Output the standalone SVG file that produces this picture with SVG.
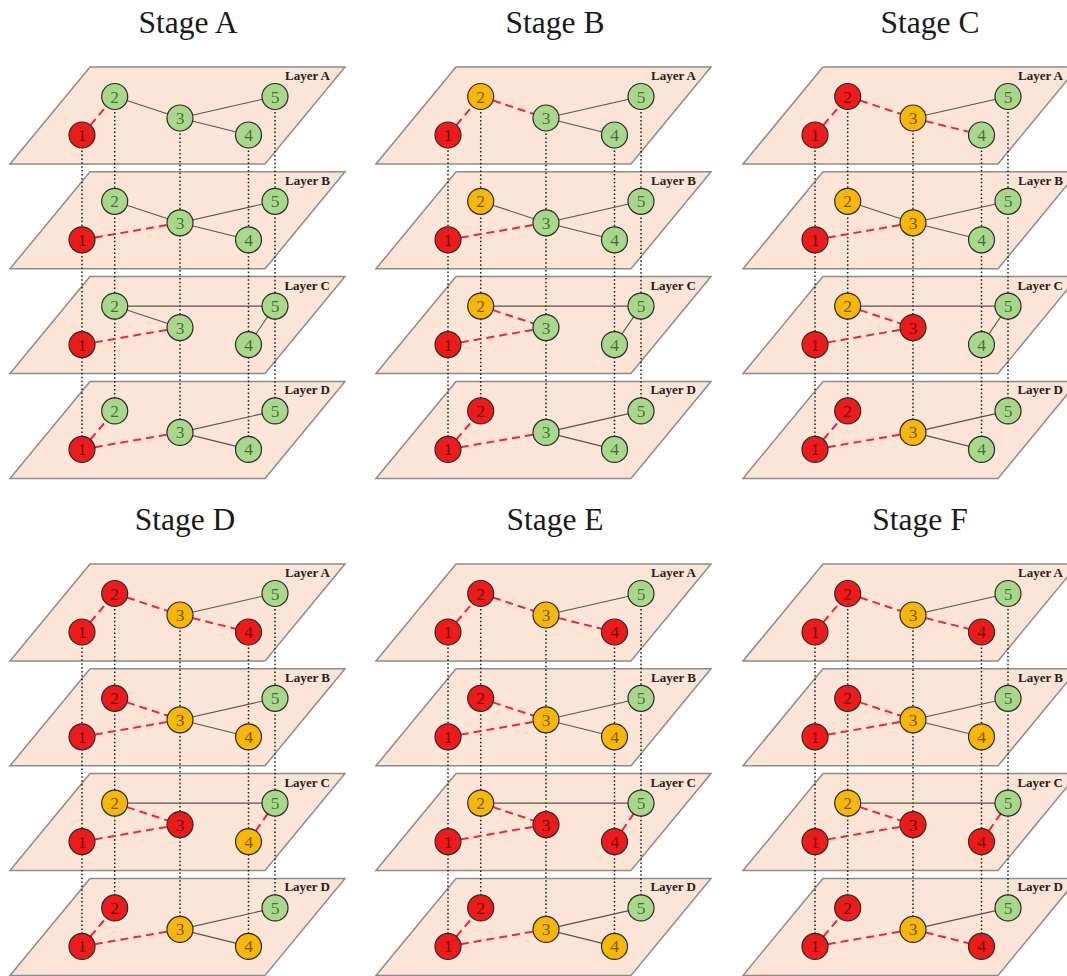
<svg xmlns="http://www.w3.org/2000/svg" xmlns:xlink="http://www.w3.org/1999/xlink" width="1067" height="976" viewBox="0 0 1067 976">
<style>
.pl{fill:#fce5d6;stroke:#8c8c8c;stroke-width:1.5}
.lb{font-family:'Liberation Serif',serif;font-weight:bold;font-size:13px;fill:#222;text-anchor:end}
.tt{font-family:'Liberation Serif',serif;font-size:31.5px;fill:#1a1a1a;text-anchor:middle}
.v{stroke:#1a1a1a;stroke-width:1.5;stroke-dasharray:1.5 2.4;fill:none}
.s{stroke:#555;stroke-width:1.1;fill:none}
.d{stroke:#e8283c;stroke-width:2;stroke-dasharray:8 5;fill:none}
.n circle{stroke:#2a2a2a;stroke-width:1.2}
.n text{font-family:'Liberation Serif',serif;font-size:17.5px;text-anchor:middle;fill:#000;fill-opacity:.55}
.r circle{fill:#ec1c1c}
.g circle{fill:#a8d88c}
.o circle{fill:#f6b70a}
</style>
<defs>
<polygon id="plane" class="pl" points="0,97 80,0 335,0 255,97"/>
</defs>
<g id="titles">
<text class="tt" x="188" y="33">Stage A</text>
<text class="tt" x="555" y="33">Stage B</text>
<text class="tt" x="930" y="33">Stage C</text>
<text class="tt" x="185" y="530">Stage D</text>
<text class="tt" x="555" y="530">Stage E</text>
<text class="tt" x="920" y="530">Stage F</text>
</g>

<!-- Stage A -->
<g id="stageA" transform="translate(10,67)">
<g id="A-layers">
<use xlink:href="#plane"/><use xlink:href="#plane" y="104.8"/><use xlink:href="#plane" y="209.6"/><use xlink:href="#plane" y="314.4"/>
<text class="lb" x="320" y="13">Layer A</text><text class="lb" x="320" y="117.8">Layer B</text><text class="lb" x="320" y="222.6">Layer C</text><text class="lb" x="320" y="327.4">Layer D</text>
</g>
<g id="A-connectors">
<path class="v" d="M72 68V382.4M104.7 29.5V343.9M170 51V365.4M238.5 68V382.4M265 29.5V343.9"/>
<path class="d" d="M72 68L104.7 29.5"/><path class="s" d="M104.7 29.5L170 51"/><path class="s" d="M170 51L265 29.5"/><path class="s" d="M170 51L238.5 68"/>
<path class="s" d="M104.7 134.3L170 155.8"/><path class="d" d="M72 172.8L170 155.8"/><path class="s" d="M170 155.8L265 134.3"/><path class="s" d="M170 155.8L238.5 172.8"/>
<path class="s" d="M104.7 239.1L265 239.1"/><path class="s" d="M104.7 239.1L170 260.6"/><path class="d" d="M72 277.6L170 260.6"/><path class="s" d="M238.5 277.6L265 239.1"/>
<path class="d" d="M72 382.4L104.7 343.9"/><path class="d" d="M72 382.4L170 365.4"/><path class="s" d="M170 365.4L265 343.9"/><path class="s" d="M170 365.4L238.5 382.4"/>
</g>
<g id="A-nodes">
<g id="A-a1" class="n r" transform="translate(72,68)"><circle r="13"/><text y="6">1</text></g>
<g id="A-a2" class="n g" transform="translate(104.7,29.5)"><circle r="13"/><text y="6">2</text></g>
<g id="A-a3" class="n g" transform="translate(170,51)"><circle r="13"/><text y="6">3</text></g>
<g id="A-a4" class="n g" transform="translate(238.5,68)"><circle r="13"/><text y="6">4</text></g>
<g id="A-a5" class="n g" transform="translate(265,29.5)"><circle r="13"/><text y="6">5</text></g>
<g id="A-b1" class="n r" transform="translate(72,172.8)"><circle r="13"/><text y="6">1</text></g>
<g id="A-b2" class="n g" transform="translate(104.7,134.3)"><circle r="13"/><text y="6">2</text></g>
<g id="A-b3" class="n g" transform="translate(170,155.8)"><circle r="13"/><text y="6">3</text></g>
<g id="A-b4" class="n g" transform="translate(238.5,172.8)"><circle r="13"/><text y="6">4</text></g>
<g id="A-b5" class="n g" transform="translate(265,134.3)"><circle r="13"/><text y="6">5</text></g>
<g id="A-c1" class="n r" transform="translate(72,277.6)"><circle r="13"/><text y="6">1</text></g>
<g id="A-c2" class="n g" transform="translate(104.7,239.1)"><circle r="13"/><text y="6">2</text></g>
<g id="A-c3" class="n g" transform="translate(170,260.6)"><circle r="13"/><text y="6">3</text></g>
<g id="A-c4" class="n g" transform="translate(238.5,277.6)"><circle r="13"/><text y="6">4</text></g>
<g id="A-c5" class="n g" transform="translate(265,239.1)"><circle r="13"/><text y="6">5</text></g>
<g id="A-d1" class="n r" transform="translate(72,382.4)"><circle r="13"/><text y="6">1</text></g>
<g id="A-d2" class="n g" transform="translate(104.7,343.9)"><circle r="13"/><text y="6">2</text></g>
<g id="A-d3" class="n g" transform="translate(170,365.4)"><circle r="13"/><text y="6">3</text></g>
<g id="A-d4" class="n g" transform="translate(238.5,382.4)"><circle r="13"/><text y="6">4</text></g>
<g id="A-d5" class="n g" transform="translate(265,343.9)"><circle r="13"/><text y="6">5</text></g>
</g>
</g>

<!-- Stage B -->
<g id="stageB" transform="translate(376,67)">
<g id="B-layers">
<use xlink:href="#plane"/><use xlink:href="#plane" y="104.8"/><use xlink:href="#plane" y="209.6"/><use xlink:href="#plane" y="314.4"/>
<text class="lb" x="320" y="13">Layer A</text><text class="lb" x="320" y="117.8">Layer B</text><text class="lb" x="320" y="222.6">Layer C</text><text class="lb" x="320" y="327.4">Layer D</text>
</g>
<g id="B-connectors">
<path class="v" d="M72 68V382.4M104.7 29.5V343.9M170 51V365.4M238.5 68V382.4M265 29.5V343.9"/>
<path class="d" d="M72 68L104.7 29.5"/><path class="d" d="M104.7 29.5L170 51"/><path class="s" d="M170 51L265 29.5"/><path class="s" d="M170 51L238.5 68"/>
<path class="s" d="M104.7 134.3L170 155.8"/><path class="d" d="M72 172.8L170 155.8"/><path class="s" d="M170 155.8L265 134.3"/><path class="s" d="M170 155.8L238.5 172.8"/>
<path class="s" d="M104.7 239.1L265 239.1"/><path class="d" d="M104.7 239.1L170 260.6"/><path class="d" d="M72 277.6L170 260.6"/><path class="s" d="M238.5 277.6L265 239.1"/>
<path class="d" d="M72 382.4L104.7 343.9"/><path class="d" d="M72 382.4L170 365.4"/><path class="s" d="M170 365.4L265 343.9"/><path class="s" d="M170 365.4L238.5 382.4"/>
</g>
<g id="B-nodes">
<g id="B-a1" class="n r" transform="translate(72,68)"><circle r="13"/><text y="6">1</text></g>
<g id="B-a2" class="n o" transform="translate(104.7,29.5)"><circle r="13"/><text y="6">2</text></g>
<g id="B-a3" class="n g" transform="translate(170,51)"><circle r="13"/><text y="6">3</text></g>
<g id="B-a4" class="n g" transform="translate(238.5,68)"><circle r="13"/><text y="6">4</text></g>
<g id="B-a5" class="n g" transform="translate(265,29.5)"><circle r="13"/><text y="6">5</text></g>
<g id="B-b1" class="n r" transform="translate(72,172.8)"><circle r="13"/><text y="6">1</text></g>
<g id="B-b2" class="n o" transform="translate(104.7,134.3)"><circle r="13"/><text y="6">2</text></g>
<g id="B-b3" class="n g" transform="translate(170,155.8)"><circle r="13"/><text y="6">3</text></g>
<g id="B-b4" class="n g" transform="translate(238.5,172.8)"><circle r="13"/><text y="6">4</text></g>
<g id="B-b5" class="n g" transform="translate(265,134.3)"><circle r="13"/><text y="6">5</text></g>
<g id="B-c1" class="n r" transform="translate(72,277.6)"><circle r="13"/><text y="6">1</text></g>
<g id="B-c2" class="n o" transform="translate(104.7,239.1)"><circle r="13"/><text y="6">2</text></g>
<g id="B-c3" class="n g" transform="translate(170,260.6)"><circle r="13"/><text y="6">3</text></g>
<g id="B-c4" class="n g" transform="translate(238.5,277.6)"><circle r="13"/><text y="6">4</text></g>
<g id="B-c5" class="n g" transform="translate(265,239.1)"><circle r="13"/><text y="6">5</text></g>
<g id="B-d1" class="n r" transform="translate(72,382.4)"><circle r="13"/><text y="6">1</text></g>
<g id="B-d2" class="n r" transform="translate(104.7,343.9)"><circle r="13"/><text y="6">2</text></g>
<g id="B-d3" class="n g" transform="translate(170,365.4)"><circle r="13"/><text y="6">3</text></g>
<g id="B-d4" class="n g" transform="translate(238.5,382.4)"><circle r="13"/><text y="6">4</text></g>
<g id="B-d5" class="n g" transform="translate(265,343.9)"><circle r="13"/><text y="6">5</text></g>
</g>
</g>

<!-- Stage C -->
<g id="stageC" transform="translate(743,67)">
<g id="C-layers">
<use xlink:href="#plane"/><use xlink:href="#plane" y="104.8"/><use xlink:href="#plane" y="209.6"/><use xlink:href="#plane" y="314.4"/>
<text class="lb" x="320" y="13">Layer A</text><text class="lb" x="320" y="117.8">Layer B</text><text class="lb" x="320" y="222.6">Layer C</text><text class="lb" x="320" y="327.4">Layer D</text>
</g>
<g id="C-connectors">
<path class="v" d="M72 68V382.4M104.7 29.5V343.9M170 51V365.4M238.5 68V382.4M265 29.5V343.9"/>
<path class="d" d="M72 68L104.7 29.5"/><path class="d" d="M104.7 29.5L170 51"/><path class="s" d="M170 51L265 29.5"/><path class="d" d="M170 51L238.5 68"/>
<path class="s" d="M104.7 134.3L170 155.8"/><path class="d" d="M72 172.8L170 155.8"/><path class="s" d="M170 155.8L265 134.3"/><path class="s" d="M170 155.8L238.5 172.8"/>
<path class="s" d="M104.7 239.1L265 239.1"/><path class="d" d="M104.7 239.1L170 260.6"/><path class="d" d="M72 277.6L170 260.6"/><path class="s" d="M238.5 277.6L265 239.1"/>
<path class="d" d="M72 382.4L104.7 343.9"/><path class="d" d="M72 382.4L170 365.4"/><path class="s" d="M170 365.4L265 343.9"/><path class="s" d="M170 365.4L238.5 382.4"/>
</g>
<g id="C-nodes">
<g id="C-a1" class="n r" transform="translate(72,68)"><circle r="13"/><text y="6">1</text></g>
<g id="C-a2" class="n r" transform="translate(104.7,29.5)"><circle r="13"/><text y="6">2</text></g>
<g id="C-a3" class="n o" transform="translate(170,51)"><circle r="13"/><text y="6">3</text></g>
<g id="C-a4" class="n g" transform="translate(238.5,68)"><circle r="13"/><text y="6">4</text></g>
<g id="C-a5" class="n g" transform="translate(265,29.5)"><circle r="13"/><text y="6">5</text></g>
<g id="C-b1" class="n r" transform="translate(72,172.8)"><circle r="13"/><text y="6">1</text></g>
<g id="C-b2" class="n o" transform="translate(104.7,134.3)"><circle r="13"/><text y="6">2</text></g>
<g id="C-b3" class="n o" transform="translate(170,155.8)"><circle r="13"/><text y="6">3</text></g>
<g id="C-b4" class="n g" transform="translate(238.5,172.8)"><circle r="13"/><text y="6">4</text></g>
<g id="C-b5" class="n g" transform="translate(265,134.3)"><circle r="13"/><text y="6">5</text></g>
<g id="C-c1" class="n r" transform="translate(72,277.6)"><circle r="13"/><text y="6">1</text></g>
<g id="C-c2" class="n o" transform="translate(104.7,239.1)"><circle r="13"/><text y="6">2</text></g>
<g id="C-c3" class="n r" transform="translate(170,260.6)"><circle r="13"/><text y="6">3</text></g>
<g id="C-c4" class="n g" transform="translate(238.5,277.6)"><circle r="13"/><text y="6">4</text></g>
<g id="C-c5" class="n g" transform="translate(265,239.1)"><circle r="13"/><text y="6">5</text></g>
<g id="C-d1" class="n r" transform="translate(72,382.4)"><circle r="13"/><text y="6">1</text></g>
<g id="C-d2" class="n r" transform="translate(104.7,343.9)"><circle r="13"/><text y="6">2</text></g>
<g id="C-d3" class="n o" transform="translate(170,365.4)"><circle r="13"/><text y="6">3</text></g>
<g id="C-d4" class="n g" transform="translate(238.5,382.4)"><circle r="13"/><text y="6">4</text></g>
<g id="C-d5" class="n g" transform="translate(265,343.9)"><circle r="13"/><text y="6">5</text></g>
</g>
</g>

<!-- Stage D -->
<g id="stageD" transform="translate(10,564)">
<g id="D-layers">
<use xlink:href="#plane"/><use xlink:href="#plane" y="104.8"/><use xlink:href="#plane" y="209.6"/><use xlink:href="#plane" y="314.4"/>
<text class="lb" x="320" y="13">Layer A</text><text class="lb" x="320" y="117.8">Layer B</text><text class="lb" x="320" y="222.6">Layer C</text><text class="lb" x="320" y="327.4">Layer D</text>
</g>
<g id="D-connectors">
<path class="v" d="M72 68V382.4M104.7 29.5V343.9M170 51V365.4M238.5 68V382.4M265 29.5V343.9"/>
<path class="d" d="M72 68L104.7 29.5"/><path class="d" d="M104.7 29.5L170 51"/><path class="s" d="M170 51L265 29.5"/><path class="d" d="M170 51L238.5 68"/>
<path class="d" d="M104.7 134.3L170 155.8"/><path class="d" d="M72 172.8L170 155.8"/><path class="s" d="M170 155.8L265 134.3"/><path class="s" d="M170 155.8L238.5 172.8"/>
<path class="s" d="M104.7 239.1L265 239.1"/><path class="d" d="M104.7 239.1L170 260.6"/><path class="d" d="M72 277.6L170 260.6"/><path class="d" d="M238.5 277.6L265 239.1"/>
<path class="d" d="M72 382.4L104.7 343.9"/><path class="d" d="M72 382.4L170 365.4"/><path class="s" d="M170 365.4L265 343.9"/><path class="s" d="M170 365.4L238.5 382.4"/>
</g>
<g id="D-nodes">
<g id="D-a1" class="n r" transform="translate(72,68)"><circle r="13"/><text y="6">1</text></g>
<g id="D-a2" class="n r" transform="translate(104.7,29.5)"><circle r="13"/><text y="6">2</text></g>
<g id="D-a3" class="n o" transform="translate(170,51)"><circle r="13"/><text y="6">3</text></g>
<g id="D-a4" class="n r" transform="translate(238.5,68)"><circle r="13"/><text y="6">4</text></g>
<g id="D-a5" class="n g" transform="translate(265,29.5)"><circle r="13"/><text y="6">5</text></g>
<g id="D-b1" class="n r" transform="translate(72,172.8)"><circle r="13"/><text y="6">1</text></g>
<g id="D-b2" class="n r" transform="translate(104.7,134.3)"><circle r="13"/><text y="6">2</text></g>
<g id="D-b3" class="n o" transform="translate(170,155.8)"><circle r="13"/><text y="6">3</text></g>
<g id="D-b4" class="n o" transform="translate(238.5,172.8)"><circle r="13"/><text y="6">4</text></g>
<g id="D-b5" class="n g" transform="translate(265,134.3)"><circle r="13"/><text y="6">5</text></g>
<g id="D-c1" class="n r" transform="translate(72,277.6)"><circle r="13"/><text y="6">1</text></g>
<g id="D-c2" class="n o" transform="translate(104.7,239.1)"><circle r="13"/><text y="6">2</text></g>
<g id="D-c3" class="n r" transform="translate(170,260.6)"><circle r="13"/><text y="6">3</text></g>
<g id="D-c4" class="n o" transform="translate(238.5,277.6)"><circle r="13"/><text y="6">4</text></g>
<g id="D-c5" class="n g" transform="translate(265,239.1)"><circle r="13"/><text y="6">5</text></g>
<g id="D-d1" class="n r" transform="translate(72,382.4)"><circle r="13"/><text y="6">1</text></g>
<g id="D-d2" class="n r" transform="translate(104.7,343.9)"><circle r="13"/><text y="6">2</text></g>
<g id="D-d3" class="n o" transform="translate(170,365.4)"><circle r="13"/><text y="6">3</text></g>
<g id="D-d4" class="n o" transform="translate(238.5,382.4)"><circle r="13"/><text y="6">4</text></g>
<g id="D-d5" class="n g" transform="translate(265,343.9)"><circle r="13"/><text y="6">5</text></g>
</g>
</g>

<!-- Stage E -->
<g id="stageE" transform="translate(376,564)">
<g id="E-layers">
<use xlink:href="#plane"/><use xlink:href="#plane" y="104.8"/><use xlink:href="#plane" y="209.6"/><use xlink:href="#plane" y="314.4"/>
<text class="lb" x="320" y="13">Layer A</text><text class="lb" x="320" y="117.8">Layer B</text><text class="lb" x="320" y="222.6">Layer C</text><text class="lb" x="320" y="327.4">Layer D</text>
</g>
<g id="E-connectors">
<path class="v" d="M72 68V382.4M104.7 29.5V343.9M170 51V365.4M238.5 68V382.4M265 29.5V343.9"/>
<path class="d" d="M72 68L104.7 29.5"/><path class="d" d="M104.7 29.5L170 51"/><path class="s" d="M170 51L265 29.5"/><path class="d" d="M170 51L238.5 68"/>
<path class="d" d="M104.7 134.3L170 155.8"/><path class="d" d="M72 172.8L170 155.8"/><path class="s" d="M170 155.8L265 134.3"/><path class="s" d="M170 155.8L238.5 172.8"/>
<path class="s" d="M104.7 239.1L265 239.1"/><path class="d" d="M104.7 239.1L170 260.6"/><path class="d" d="M72 277.6L170 260.6"/><path class="d" d="M238.5 277.6L265 239.1"/>
<path class="d" d="M72 382.4L104.7 343.9"/><path class="d" d="M72 382.4L170 365.4"/><path class="s" d="M170 365.4L265 343.9"/><path class="s" d="M170 365.4L238.5 382.4"/>
</g>
<g id="E-nodes">
<g id="E-a1" class="n r" transform="translate(72,68)"><circle r="13"/><text y="6">1</text></g>
<g id="E-a2" class="n r" transform="translate(104.7,29.5)"><circle r="13"/><text y="6">2</text></g>
<g id="E-a3" class="n o" transform="translate(170,51)"><circle r="13"/><text y="6">3</text></g>
<g id="E-a4" class="n r" transform="translate(238.5,68)"><circle r="13"/><text y="6">4</text></g>
<g id="E-a5" class="n g" transform="translate(265,29.5)"><circle r="13"/><text y="6">5</text></g>
<g id="E-b1" class="n r" transform="translate(72,172.8)"><circle r="13"/><text y="6">1</text></g>
<g id="E-b2" class="n r" transform="translate(104.7,134.3)"><circle r="13"/><text y="6">2</text></g>
<g id="E-b3" class="n o" transform="translate(170,155.8)"><circle r="13"/><text y="6">3</text></g>
<g id="E-b4" class="n o" transform="translate(238.5,172.8)"><circle r="13"/><text y="6">4</text></g>
<g id="E-b5" class="n g" transform="translate(265,134.3)"><circle r="13"/><text y="6">5</text></g>
<g id="E-c1" class="n r" transform="translate(72,277.6)"><circle r="13"/><text y="6">1</text></g>
<g id="E-c2" class="n o" transform="translate(104.7,239.1)"><circle r="13"/><text y="6">2</text></g>
<g id="E-c3" class="n r" transform="translate(170,260.6)"><circle r="13"/><text y="6">3</text></g>
<g id="E-c4" class="n r" transform="translate(238.5,277.6)"><circle r="13"/><text y="6">4</text></g>
<g id="E-c5" class="n g" transform="translate(265,239.1)"><circle r="13"/><text y="6">5</text></g>
<g id="E-d1" class="n r" transform="translate(72,382.4)"><circle r="13"/><text y="6">1</text></g>
<g id="E-d2" class="n r" transform="translate(104.7,343.9)"><circle r="13"/><text y="6">2</text></g>
<g id="E-d3" class="n o" transform="translate(170,365.4)"><circle r="13"/><text y="6">3</text></g>
<g id="E-d4" class="n o" transform="translate(238.5,382.4)"><circle r="13"/><text y="6">4</text></g>
<g id="E-d5" class="n g" transform="translate(265,343.9)"><circle r="13"/><text y="6">5</text></g>
</g>
</g>

<!-- Stage F -->
<g id="stageF" transform="translate(743,564)">
<g id="F-layers">
<use xlink:href="#plane"/><use xlink:href="#plane" y="104.8"/><use xlink:href="#plane" y="209.6"/><use xlink:href="#plane" y="314.4"/>
<text class="lb" x="320" y="13">Layer A</text><text class="lb" x="320" y="117.8">Layer B</text><text class="lb" x="320" y="222.6">Layer C</text><text class="lb" x="320" y="327.4">Layer D</text>
</g>
<g id="F-connectors">
<path class="v" d="M72 68V382.4M104.7 29.5V343.9M170 51V365.4M238.5 68V382.4M265 29.5V343.9"/>
<path class="d" d="M72 68L104.7 29.5"/><path class="d" d="M104.7 29.5L170 51"/><path class="s" d="M170 51L265 29.5"/><path class="d" d="M170 51L238.5 68"/>
<path class="d" d="M104.7 134.3L170 155.8"/><path class="d" d="M72 172.8L170 155.8"/><path class="s" d="M170 155.8L265 134.3"/><path class="s" d="M170 155.8L238.5 172.8"/>
<path class="s" d="M104.7 239.1L265 239.1"/><path class="d" d="M104.7 239.1L170 260.6"/><path class="d" d="M72 277.6L170 260.6"/><path class="d" d="M238.5 277.6L265 239.1"/>
<path class="d" d="M72 382.4L104.7 343.9"/><path class="d" d="M72 382.4L170 365.4"/><path class="s" d="M170 365.4L265 343.9"/><path class="d" d="M170 365.4L238.5 382.4"/>
</g>
<g id="F-nodes">
<g id="F-a1" class="n r" transform="translate(72,68)"><circle r="13"/><text y="6">1</text></g>
<g id="F-a2" class="n r" transform="translate(104.7,29.5)"><circle r="13"/><text y="6">2</text></g>
<g id="F-a3" class="n o" transform="translate(170,51)"><circle r="13"/><text y="6">3</text></g>
<g id="F-a4" class="n r" transform="translate(238.5,68)"><circle r="13"/><text y="6">4</text></g>
<g id="F-a5" class="n g" transform="translate(265,29.5)"><circle r="13"/><text y="6">5</text></g>
<g id="F-b1" class="n r" transform="translate(72,172.8)"><circle r="13"/><text y="6">1</text></g>
<g id="F-b2" class="n r" transform="translate(104.7,134.3)"><circle r="13"/><text y="6">2</text></g>
<g id="F-b3" class="n o" transform="translate(170,155.8)"><circle r="13"/><text y="6">3</text></g>
<g id="F-b4" class="n o" transform="translate(238.5,172.8)"><circle r="13"/><text y="6">4</text></g>
<g id="F-b5" class="n g" transform="translate(265,134.3)"><circle r="13"/><text y="6">5</text></g>
<g id="F-c1" class="n r" transform="translate(72,277.6)"><circle r="13"/><text y="6">1</text></g>
<g id="F-c2" class="n o" transform="translate(104.7,239.1)"><circle r="13"/><text y="6">2</text></g>
<g id="F-c3" class="n r" transform="translate(170,260.6)"><circle r="13"/><text y="6">3</text></g>
<g id="F-c4" class="n r" transform="translate(238.5,277.6)"><circle r="13"/><text y="6">4</text></g>
<g id="F-c5" class="n g" transform="translate(265,239.1)"><circle r="13"/><text y="6">5</text></g>
<g id="F-d1" class="n r" transform="translate(72,382.4)"><circle r="13"/><text y="6">1</text></g>
<g id="F-d2" class="n r" transform="translate(104.7,343.9)"><circle r="13"/><text y="6">2</text></g>
<g id="F-d3" class="n o" transform="translate(170,365.4)"><circle r="13"/><text y="6">3</text></g>
<g id="F-d4" class="n r" transform="translate(238.5,382.4)"><circle r="13"/><text y="6">4</text></g>
<g id="F-d5" class="n g" transform="translate(265,343.9)"><circle r="13"/><text y="6">5</text></g>
</g>
</g>
</svg>
